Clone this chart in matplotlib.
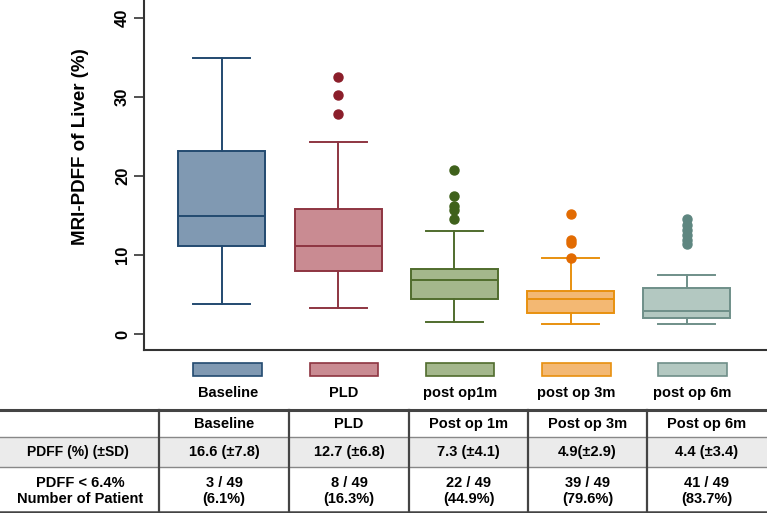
import matplotlib
matplotlib.use('Agg')
import matplotlib.pyplot as plt
from matplotlib.patches import Rectangle
from matplotlib.transforms import blended_transform_factory

plt.rcParams['font.family'] = ['Liberation Sans', 'DejaVu Sans']

# box plot data (MRI-PDFF of liver, %)
groups = ['Baseline', 'PLD', 'post op1m', 'post op 3m', 'post op 6m']
q1 = [11.2, 8.0, 4.4, 2.7, 2.0]
med = [15.0, 11.2, 6.8, 4.4, 2.9]
q3 = [23.2, 15.8, 8.2, 5.5, 5.9]
whislo = [3.8, 3.3, 1.6, 1.3, 1.3]
whishi = [34.9, 24.3, 13.1, 9.6, 7.5]
fliers = [[],
          [32.6, 30.3, 27.9],
          [20.8, 17.5, 16.2, 15.7, 14.6],
          [15.2, 11.9, 11.6, 9.7],
          [14.6, 13.8, 13.2, 12.6, 11.9, 11.4]]

# table data
col_headers = ['Baseline', 'PLD', 'Post op 1m', 'Post op 3m', 'Post op 6m']
pdff_sd = ['16.6 (±7.8)', '12.7 (±6.8)', '7.3 (±4.1)', '4.9(±2.9)', '4.4 (±3.4)']
n_low = ['3 / 49', '8 / 49', '22 / 49', '39 / 49', '41 / 49']
pct_low = ['(6.1%)', '(16.3%)', '(44.9%)', '(79.6%)', '(83.7%)']

fills = ['#8099b2', '#c98b92', '#a4b78c', '#f3b873', '#b3c8c1']
edges = ['#234a70', '#8e3541', '#506c2d', '#e8900f', '#6f8f89']
flier_cols = ['#234a70', '#8b1e2a', '#3f611b', '#e26b02', '#5e8680']

W, H = 767, 513
fig = plt.figure(figsize=(W / 100, H / 100), dpi=100)

# ---- box plot ----
ax = fig.add_axes([144 / W, 163 / H, 623 / W, 350 / H])
stats = [dict(label=g, q1=a, med=m, q3=b, whislo=lo, whishi=hi, fliers=f)
         for g, a, m, b, lo, hi, f in zip(groups, q1, med, q3, whislo, whishi, fliers)]
pos = list(range(1, len(groups) + 1))
for i, s in enumerate(stats):
    ax.bxp([s], positions=[pos[i]], widths=0.75, capwidths=0.49, patch_artist=True,
           boxprops=dict(facecolor=fills[i], edgecolor=edges[i], linewidth=1.4),
           medianprops=dict(color=edges[i], linewidth=1.4),
           whiskerprops=dict(color=edges[i], linewidth=1.4),
           capprops=dict(color=edges[i], linewidth=1.4),
           flierprops=dict(marker='o', markerfacecolor=flier_cols[i],
                           markeredgecolor=flier_cols[i], markersize=6.5))

ax.set_xlim(0.33, 5.69)
ax.set_ylim(-2.0, 42.3)
ax.set_yticks([0, 10, 20, 30, 40])
ax.set_yticklabels(['0', '10', '20', '30', '40'], rotation=90, va='center',
                   fontsize=12, fontweight='bold')
ax.tick_params(axis='y', direction='out', length=7, width=1.2, color='#333333', pad=3)
ax.set_xticks([])
for side in ['top', 'right']:
    ax.spines[side].set_visible(False)
for side in ['left', 'bottom']:
    ax.spines[side].set_color('#333333')
    ax.spines[side].set_linewidth(1.5)
ax.set_ylabel('MRI-PDFF of Liver (%)', fontsize=13.5, fontweight='bold')
ax.yaxis.set_label_coords(-0.088, 0.58)

# colour keys under each box
trans = blended_transform_factory(ax.transData, ax.transAxes)
for i, g in enumerate(groups):
    ax.add_patch(Rectangle((pos[i] + 0.05 - 0.295, -0.074), 0.59, 0.037,
                           transform=trans, clip_on=False,
                           facecolor=fills[i], edgecolor=edges[i], linewidth=1.2))
    ax.text(pos[i] + 0.05, -0.123, g, transform=trans, ha='center', va='center',
            fontsize=10.5, fontweight='bold')

# ---- table (figure pixel coordinates) ----
tb = fig.add_axes([0, 0, 1, 1])
tb.set_xlim(0, W)
tb.set_ylim(H, 0)
tb.axis('off')
tb.patch.set_alpha(0)

col_edges = [0, 159, 289, 409, 528, 647, W]
tb.add_patch(Rectangle((0, 437), W, 30, facecolor='#ebebeb', edgecolor='none'))
tb.plot([0, W], [410, 410], color='#444444', lw=2.2)
tb.plot([0, W], [437, 437], color='#888888', lw=1.0)
tb.plot([0, W], [467, 467], color='#888888', lw=1.0)
tb.plot([0, W], [511.5, 511.5], color='#444444', lw=1.8)
for x in col_edges[1:-1]:
    tb.plot([x, x], [410, 512], color='#444444', lw=1.6)

tb.text(78, 452, 'PDFF (%) (±SD)', ha='center', va='center', fontsize=10, fontweight='bold')
tb.text(80, 483, 'PDFF < 6.4%', ha='center', va='center', fontsize=10.5, fontweight='bold')
tb.text(80, 499, 'Number of Patient', ha='center', va='center', fontsize=10.5, fontweight='bold')

for j in range(len(col_headers)):
    cx = (col_edges[j + 1] + col_edges[j + 2]) / 2
    tb.text(cx, 424, col_headers[j], ha='center', va='center', fontsize=10.5, fontweight='bold')
    tb.text(cx, 452, pdff_sd[j], ha='center', va='center', fontsize=10.5, fontweight='bold')
    tb.text(cx, 483, n_low[j], ha='center', va='center', fontsize=10.5, fontweight='bold')
    tb.text(cx, 499, pct_low[j], ha='center', va='center', fontsize=10.5, fontweight='bold')

fig.savefig('out.png', dpi=100)
